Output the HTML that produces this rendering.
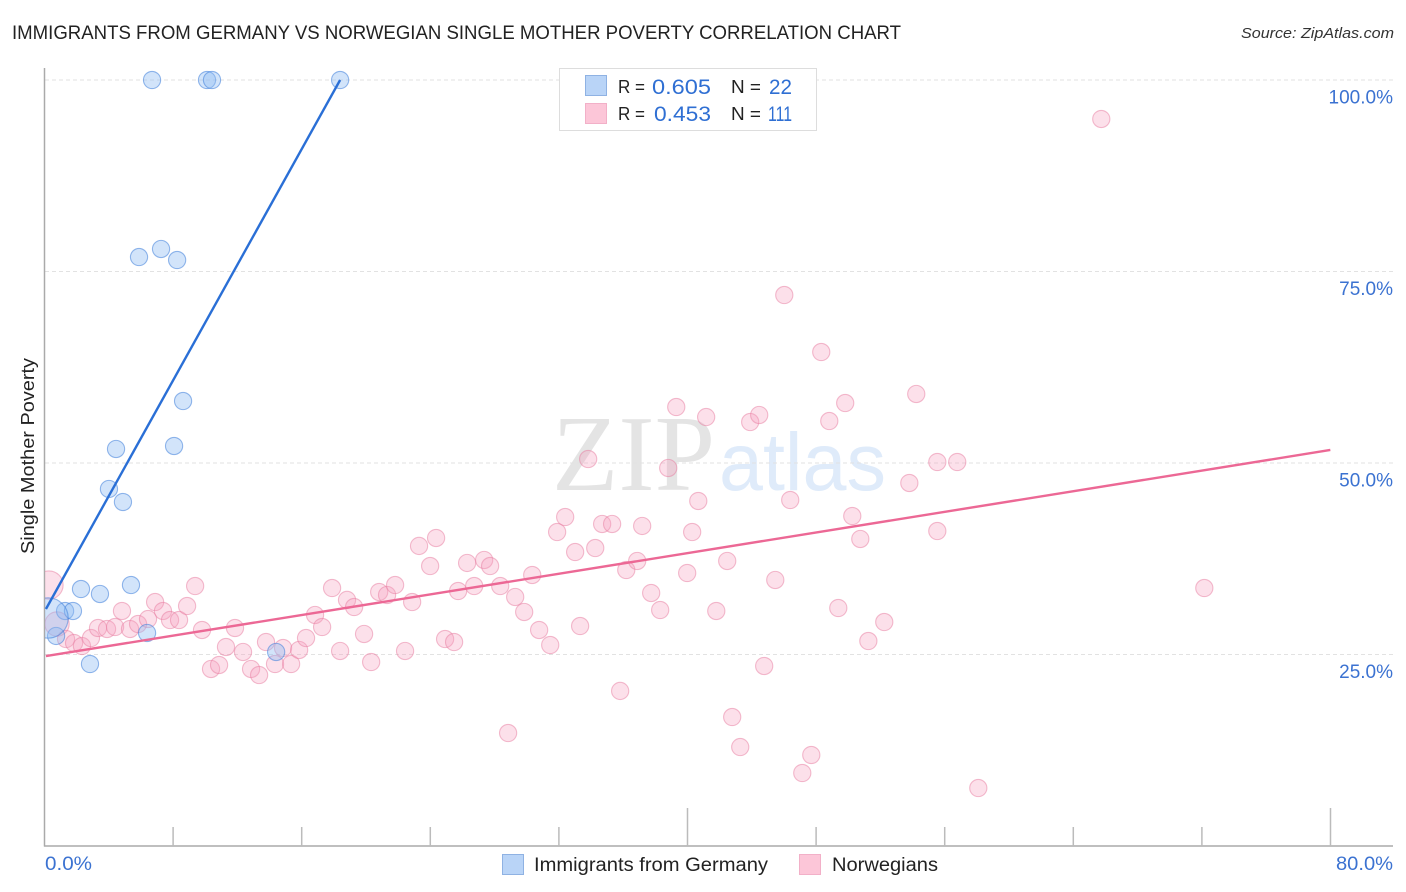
<!DOCTYPE html>
<html lang="en">
<head>
<meta charset="utf-8">
<title>Immigrants from Germany vs Norwegian Single Mother Poverty Correlation Chart</title>
<style>
html,body{margin:0;padding:0;background:#fff;}
svg{display:block;font-family:"Liberation Sans",sans-serif;}
</style>
</head>
<body>
<svg id="chart" xmlns="http://www.w3.org/2000/svg" width="1406" height="892" viewBox="0 0 1406 892">
  <defs>
    <clipPath id="plot-clip"><rect x="45" y="60" width="1349" height="786"/></clipPath>
  </defs>
  <rect x="0" y="0" width="1406" height="892" fill="#ffffff"/>
  <text x="12" y="39" font-size="19" fill="#222222" textLength="889" lengthAdjust="spacingAndGlyphs">IMMIGRANTS FROM GERMANY VS NORWEGIAN SINGLE MOTHER POVERTY CORRELATION CHART</text>
  <text x="1241" y="38" font-size="15" font-style="italic" fill="#333333" textLength="153" lengthAdjust="spacingAndGlyphs">Source: ZipAtlas.com</text>
  <text x="552" y="490" font-family="'Liberation Serif',serif" font-size="108" fill="#e4e4e4" textLength="163" lengthAdjust="spacingAndGlyphs">ZIP</text>
  <text x="719" y="490" font-size="82" fill="#dfebfa" textLength="167" lengthAdjust="spacingAndGlyphs">atlas</text>
  <g id="grid"></g>
  <g id="axes"></g>
  <g id="points" clip-path="url(#plot-clip)"></g>
  <g id="trends"></g>
  <g id="ylabels"></g>
  <text transform="translate(34,456) rotate(-90)" text-anchor="middle" font-size="18" fill="#222222" textLength="196" lengthAdjust="spacingAndGlyphs">Single Mother Poverty</text>
  <text x="45" y="870" font-size="19" fill="#3b72d1" textLength="47" lengthAdjust="spacingAndGlyphs">0.0%</text>
  <text x="1336" y="870" font-size="19" fill="#3b72d1" textLength="57" lengthAdjust="spacingAndGlyphs">80.0%</text>

  <g>
    <rect x="559.5" y="68.5" width="257" height="62" fill="#ffffff" stroke="#dddddd" stroke-width="1"/>
    <rect x="585.5" y="75.5" width="21" height="20" fill="#b9d4f7" stroke="#8fb2e3" stroke-width="1"/>
    <rect x="585.5" y="103.5" width="21" height="20" fill="#fcc6d8" stroke="#f2b0c8" stroke-width="1"/>
    <text x="618" y="93" font-size="18" fill="#222222" textLength="27" lengthAdjust="spacingAndGlyphs">R =</text>
    <text x="652" y="94" font-size="21" fill="#2f6fd3" textLength="59" lengthAdjust="spacingAndGlyphs">0.605</text>
    <text x="731" y="93" font-size="18" fill="#222222" textLength="30" lengthAdjust="spacingAndGlyphs">N =</text>
    <text x="769" y="94" font-size="21" fill="#2f6fd3" textLength="23" lengthAdjust="spacingAndGlyphs">22</text>
    <text x="618" y="120" font-size="18" fill="#222222" textLength="27" lengthAdjust="spacingAndGlyphs">R =</text>
    <text x="654" y="121" font-size="21" fill="#2f6fd3" textLength="57" lengthAdjust="spacingAndGlyphs">0.453</text>
    <text x="731" y="120" font-size="18" fill="#222222" textLength="30" lengthAdjust="spacingAndGlyphs">N =</text>
    <text x="768" y="121" font-size="21" fill="#2f6fd3" textLength="24" lengthAdjust="spacingAndGlyphs">111</text>
  </g>

  <g>
    <rect x="502.5" y="854.5" width="21" height="20" fill="#b9d4f7" stroke="#8fb2e3" stroke-width="1"/>
    <text x="534" y="871" font-size="19" fill="#222222" textLength="234" lengthAdjust="spacingAndGlyphs">Immigrants from Germany</text>
    <rect x="799.5" y="854.5" width="21" height="20" fill="#fcc6d8" stroke="#f2b0c8" stroke-width="1"/>
    <text x="832" y="871" font-size="19" fill="#222222" textLength="106" lengthAdjust="spacingAndGlyphs">Norwegians</text>
  </g>
</svg>
<script>
const xTickValues = [0, 8, 16, 24, 32, 40, 48, 56, 64, 72, 80];
const yTickValues = [25, 50, 75, 100];
const yTickLabels = ["25.0%", "50.0%", "75.0%", "100.0%"];

const germanyX = [6.69, 10.11, 10.42, 18.39, 5.88, 7.25, 8.25, 8.62, 4.45, 8.06, 4.01, 4.88, 2.27, 3.45, 5.38, 1.28, 1.77, 0.72, 6.38, 14.41, 2.83, 0.22];
const germanyY = [100, 100, 100, 100, 76.89, 77.94, 76.50, 58.09, 51.83, 52.22, 46.61, 44.91, 33.55, 32.90, 34.07, 30.68, 30.68, 27.42, 27.81, 25.33, 23.76, 29.77];
const germanyWeight = [1, 1, 1, 1, 1, 1, 1, 1, 1, 1, 1, 1, 1, 1, 1, 1, 1, 1, 1, 1, 1, 5.5];

const norwegianX = [0.28, 0.78, 1.34, 1.84, 2.33, 2.89, 3.33, 3.89, 4.39, 4.82, 5.32, 5.82, 6.44, 6.88, 7.37, 7.81, 8.37, 8.87, 9.37, 9.80, 10.36, 10.86, 11.29, 11.85, 12.35, 12.85, 13.35, 13.78, 14.34, 14.84, 15.34, 15.84, 16.27, 16.83, 17.27, 17.89, 18.39, 18.82, 19.26, 19.88, 20.32, 20.82, 21.31, 21.81, 22.43, 22.87, 23.30, 24.36, 23.99, 24.92, 25.48, 25.73, 26.29, 26.73, 27.35, 27.72, 28.35, 29.28, 29.84, 30.34, 30.77, 31.46, 31.89, 32.39, 33.01, 33.32, 33.82, 34.26, 34.69, 35.31, 35.81, 36.19, 36.87, 37.18, 37.74, 38.30, 38.80, 39.30, 39.98, 40.29, 40.67, 41.16, 41.79, 42.47, 42.78, 43.28, 43.90, 44.46, 44.77, 45.46, 46.02, 46.39, 47.14, 47.70, 48.32, 48.82, 49.38, 49.81, 50.25, 50.75, 51.25, 52.24, 53.80, 54.23, 55.54, 55.54, 56.78, 58.09, 65.74, 72.15, 28.84];
const norwegianY = [34.07, 28.98, 27.02, 26.50, 26.11, 27.15, 28.46, 28.33, 28.59, 30.68, 28.33, 28.98, 29.63, 31.85, 30.68, 29.50, 29.50, 31.33, 33.94, 28.20, 23.11, 23.63, 25.98, 28.46, 25.33, 23.11, 22.32, 26.63, 23.76, 25.85, 23.76, 25.59, 27.15, 30.16, 28.59, 33.68, 25.46, 32.12, 31.20, 27.68, 24.02, 33.16, 32.77, 34.07, 25.46, 31.85, 39.17, 40.21, 36.55, 27.02, 26.63, 33.29, 36.95, 33.94, 37.34, 36.55, 33.94, 32.51, 30.55, 35.38, 28.20, 26.24, 40.99, 42.95, 38.38, 28.72, 50.52, 38.90, 42.04, 42.04, 20.24, 36.03, 37.21, 41.78, 33.03, 30.81, 49.35, 57.31, 35.64, 40.99, 45.04, 56.00, 30.68, 37.21, 16.84, 12.92, 55.35, 56.27, 23.50, 34.73, 71.93, 45.17, 9.53, 11.88, 64.49, 55.48, 31.07, 57.83, 43.08, 40.08, 26.76, 29.24, 47.39, 59.01, 50.13, 41.12, 50.13, 7.57, 94.91, 33.68, 14.75];
const norwegianWeight = [2.7, 2, 1, 1, 1, 1, 1, 1, 1, 1, 1, 1, 1, 1, 1, 1, 1, 1, 1, 1, 1, 1, 1, 1, 1, 1, 1, 1, 1, 1, 1, 1, 1, 1, 1, 1, 1, 1, 1, 1, 1, 1, 1, 1, 1, 1, 1, 1, 1, 1, 1, 1, 1, 1, 1, 1, 1, 1, 1, 1, 1, 1, 1, 1, 1, 1, 1, 1, 1, 1, 1, 1, 1, 1, 1, 1, 1, 1, 1, 1, 1, 1, 1, 1, 1, 1, 1, 1, 1, 1, 1, 1, 1, 1, 1, 1, 1, 1, 1, 1, 1, 1, 1, 1, 1, 1, 1, 1, 1, 1, 1];

const germanyTrendX = [0.09, 18.39];
const germanyTrendY = [30.94, 100];
const norwegianTrendX = [0.09, 79.99];
const norwegianTrendY = [24.80, 51.70];

const SVGNS = "http://www.w3.org/2000/svg";
function xScale(v) { return 44.5 + v * (1330.5 - 44.5) / 80; }
function yScale(v) { return 846 - v * (846 - 80) / 100; }
function make(tag, parentId, attrs) {
  const el = document.createElementNS(SVGNS, tag);
  for (const k in attrs) el.setAttribute(k, attrs[k]);
  document.getElementById(parentId).appendChild(el);
  return el;
}

yTickValues.forEach(function (v) {
  const line = make("line", "grid", { x1: 45, x2: 1393, y1: yScale(v), y2: yScale(v), stroke: "#e2e2e2", "stroke-width": 1, "stroke-dasharray": "4 3" });
  
  
});

const yAxisLine = make("line", "axes", { x1: 44.5, x2: 44.5, y1: 68, y2: 846.5, stroke: "#aaaaaa", "stroke-width": 1.5 });


const xAxisLine = make("line", "axes", { x1: 44, x2: 1393, y1: 846, y2: 846, stroke: "#aaaaaa", "stroke-width": 1.5 });



xTickValues.forEach(function (v) {
  if (v === 0) return;
  const top = v % 40 === 0 ? 808 : 827;
  const tick = make("line", "axes", { x1: xScale(v), x2: xScale(v), y1: top, y2: 846, stroke: "#bbbbbb", "stroke-width": 1.5 });
  
  
});

yTickValues.forEach(function (v, i) {
  const label = make("text", "ylabels", { x: 1393, y: yScale(v) + 23.5, "text-anchor": "end", "font-size": 19, fill: "#3b72d1" });
  label.textContent = yTickLabels[i];
  
  
});

function radius(weight) { return 8.6 * Math.sqrt(weight); }

norwegianX.forEach(function (v, i) {
  const dot = make("circle", "points", { cx: xScale(v), cy: yScale(norwegianY[i]), r: radius(norwegianWeight[i]), fill: "#f59fbd", "fill-opacity": 0.32, stroke: "#e77ba0", "stroke-opacity": 0.5, "stroke-width": 1.1 });
  
  
});
germanyX.forEach(function (v, i) {
  const dot = make("circle", "points", { cx: xScale(v), cy: yScale(germanyY[i]), r: radius(germanyWeight[i]), fill: "#8fbcf2", "fill-opacity": 0.4, stroke: "#3f7fdb", "stroke-opacity": 0.55, "stroke-width": 1.1 });
  
  
});

const germanyTrend = make("line", "trends", { x1: xScale(germanyTrendX[0]), y1: yScale(germanyTrendY[0]), x2: xScale(germanyTrendX[1]), y2: yScale(germanyTrendY[1]), stroke: "#2a6fd6", "stroke-width": 2.4 });


const norwegianTrend = make("line", "trends", { x1: xScale(norwegianTrendX[0]), y1: yScale(norwegianTrendY[0]), x2: xScale(norwegianTrendX[1]), y2: yScale(norwegianTrendY[1]), stroke: "#ec6895", "stroke-width": 2.4 });


</script>
</body>
</html>
